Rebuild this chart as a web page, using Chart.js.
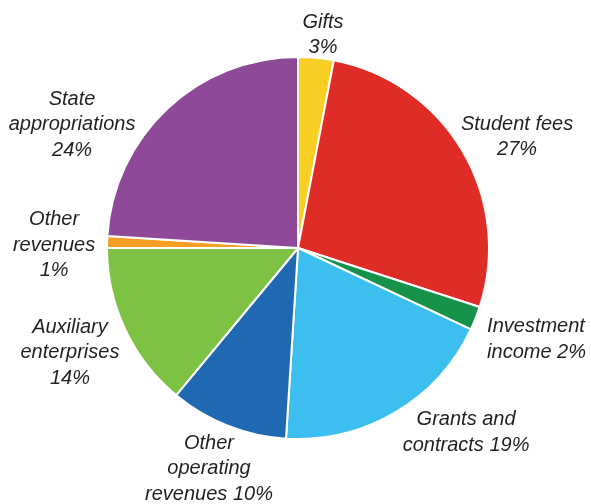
<!DOCTYPE html>
<html>
<head>
<meta charset="utf-8">
<script src="https://cdn.jsdelivr.net/npm/chart.js@4"></script>
<style>
  html, body { margin: 0; padding: 0; background: #ffffff; }
  #wrap { width: 591px; height: 504px; }
</style>
</head>
<body>
<div id="wrap"><canvas id="pie" width="591" height="504"></canvas></div>
<script>
// Revenue sources, share of total (%)
const categories = ['Gifts', 'Student fees', 'Investment income', 'Grants and contracts',
  'Other operating revenues', 'Auxiliary enterprises', 'Other revenues', 'State appropriations'];
const shares = [3, 27, 2, 19, 10, 14, 1, 24];
const sliceColors = ['#F9CF26', '#E02C27', '#17924A', '#3CBFEE', '#1F69B3', '#7DC243', '#F5A024', '#8E4A98'];

// How each label wraps: number of words of the name on each line;
// a trailing 0 puts the percentage on its own line.
const labelWraps = [[1, 0], [2, 0], [1, 1], [2, 1], [1, 1, 1], [1, 1, 0], [1, 1, 0], [1, 1, 0]];

// First-line baseline of each label, relative to the pie centre, in radii
const labelAnchors = [
  [0.131, -1.152, 'center'], [1.147, -0.618, 'center'], [0.990, 0.440, 'left'],
  [0.880, 0.927, 'center'], [-0.466, 1.052, 'center'], [-1.194, 0.445, 'center'],
  [-1.277, -0.120, 'center'], [-1.183, -0.749, 'center']
];

function labelLines(i) {
  const words = categories[i].split(' ');
  const pct = shares[i] + '%';
  const lines = [];
  let k = 0;
  labelWraps[i].forEach((n, j) => {
    const isLast = j === labelWraps[i].length - 1;
    if (n === 0) { lines.push(pct); return; }
    let line = words.slice(k, k + n).join(' ');
    k += n;
    if (isLast) line += ' ' + pct;
    lines.push(line);
  });
  return lines;
}

const outsideLabels = {
  id: 'outsideLabels',
  afterDraw(chart) {
    const ctx = chart.ctx;
    const arcs = chart.getDatasetMeta(0).data;
    ctx.save();
    ctx.fillStyle = '#231F20';
    ctx.font = 'italic 20px "Liberation Sans", Arial, sans-serif';
    ctx.textBaseline = 'alphabetic';
    arcs.forEach((arc, i) => {
      const r = arc.outerRadius;
      const [fx, fy, align] = labelAnchors[i];
      const x = arc.x + fx * r;
      const y = arc.y + fy * r;
      ctx.textAlign = align;
      labelLines(i).forEach((line, j) => ctx.fillText(line, x, y + j * 25.5));
    });
    ctx.restore();
  }
};

new Chart(document.getElementById('pie'), {
  type: 'pie',
  data: {
    labels: categories,
    datasets: [{
      data: shares,
      backgroundColor: sliceColors,
      borderColor: '#ffffff',
      borderWidth: 2
    }]
  },
  options: {
    responsive: false,
    animation: false,
    layout: { padding: { top: 56, bottom: 64, left: 106, right: 101 } },
    plugins: {
      legend: { display: false },
      tooltip: { enabled: false }
    }
  },
  plugins: [outsideLabels]
});
</script>
</body>
</html>
